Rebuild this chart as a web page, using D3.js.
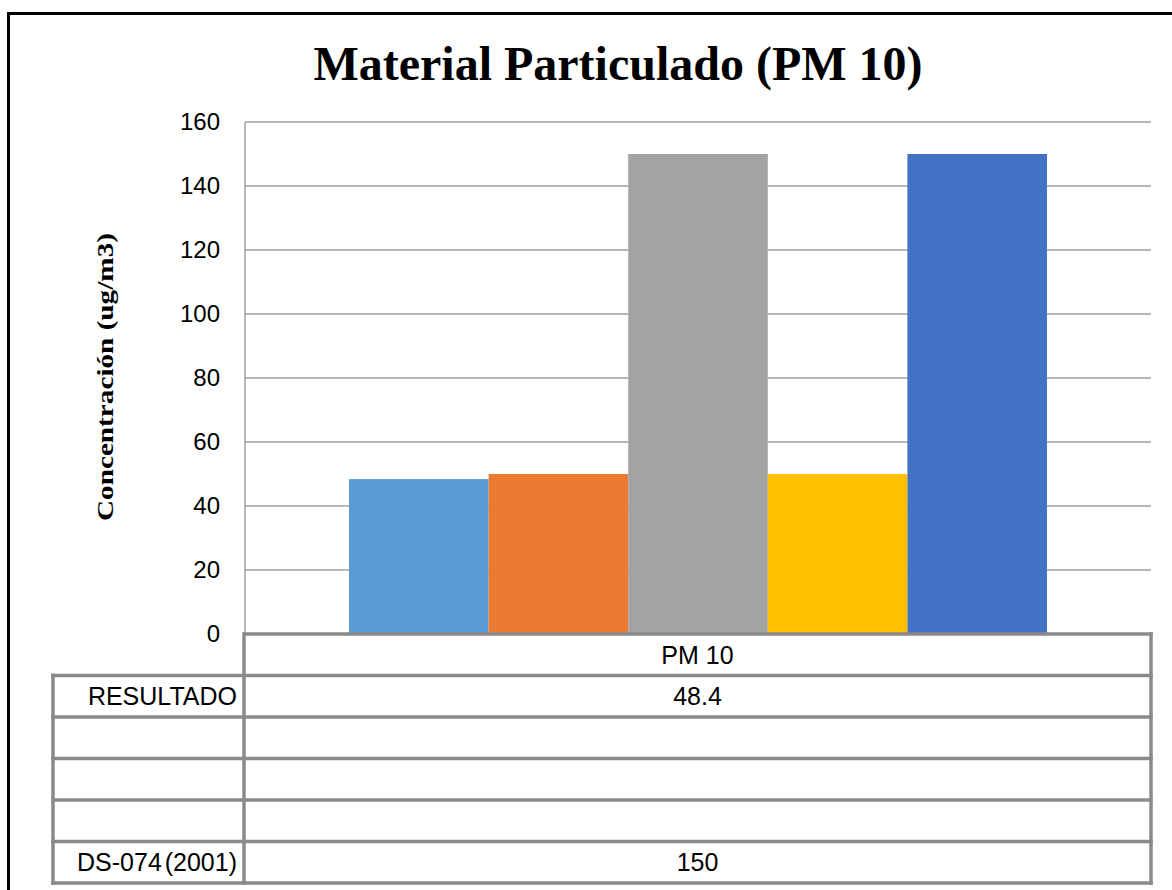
<!DOCTYPE html>
<html>
<head>
<meta charset="utf-8">
<script src="https://cdn.jsdelivr.net/npm/d3@7"></script>
<style>
  html, body { margin: 0; padding: 0; background: #fff; }
  svg { display: block; }
</style>
</head>
<body>
<svg id="chart" width="1172" height="890"></svg>
<script>
// Chart content
const chartTitle = "Material Particulado (PM 10)";
const yAxisTitle = "Concentración (ug/m3)";
const categories = ["PM 10"];
const seriesNames = ["RESULTADO", "", "", "", "DS-074 (2001)"];
const seriesValues = [48.4, 50, 150, 50, 150];
const seriesShownInTable = [true, false, false, false, true];
const seriesColors = ["#5B9BD5", "#EB7B31", "#A3A3A3", "#FFC000", "#4472C4"];
const yTicks = [0, 20, 40, 60, 80, 100, 120, 140, 160];

const svg = d3.select("#chart");
const W = 1172, H = 890;

// Layout
const plot = { left: 245, right: 1151, top: 122, bottom: 634 };
const table = { left: 53, split: 244, right: 1151, rowH: 41.5 };
const gridColor = "#A0A0A0";
const tableColor = "#8A8A8A";
const sansFont = "'Liberation Sans', Arial, sans-serif";
const serifFont = "'Liberation Serif', 'Times New Roman', serif";

svg.append("rect").attr("width", W).attr("height", H).attr("fill", "#fff");

// Outer frame (top and left edges)
svg.append("line").attr("x1", 8.5).attr("x2", W).attr("y1", 13.5).attr("y2", 13.5)
  .attr("stroke", "#000").attr("stroke-width", 3);
svg.append("line").attr("x1", 8.5).attr("x2", 8.5).attr("y1", 12).attr("y2", H)
  .attr("stroke", "#000").attr("stroke-width", 3);

// Scales
const y = d3.scaleLinear().domain([0, 160]).range([plot.bottom, plot.top]);
const x0 = d3.scaleBand().domain(categories).range([plot.left, plot.right])
  .paddingInner(0).paddingOuter(0.149);
const x1 = d3.scaleBand().domain(d3.range(seriesValues.length))
  .range([0, x0.bandwidth()]).padding(0);

// Gridlines + y axis labels
const yAxis = d3.axisLeft(y).tickValues(yTicks).tickSize(0).tickPadding(25);
const yG = svg.append("g").attr("transform", `translate(${plot.left},0)`).call(yAxis);
yG.select(".domain").remove();
yG.selectAll("text")
  .attr("font-family", sansFont).attr("font-size", 24).attr("fill", "#000");

svg.append("g").selectAll("line").data(yTicks.filter(d => d > 0)).join("line")
  .attr("x1", plot.left).attr("x2", plot.right)
  .attr("y1", d => y(d)).attr("y2", d => y(d))
  .attr("stroke", gridColor).attr("stroke-width", 1.5);

// Plot left edge
svg.append("line").attr("x1", plot.left).attr("x2", plot.left)
  .attr("y1", plot.top).attr("y2", plot.bottom)
  .attr("stroke", gridColor).attr("stroke-width", 1.5);

// Bars
const groups = svg.append("g").selectAll("g").data(categories).join("g")
  .attr("transform", d => `translate(${x0(d)},0)`);
groups.selectAll("rect").data(seriesValues.map((v, i) => ({ v, i }))).join("rect")
  .attr("x", d => x1(d.i))
  .attr("width", x1.bandwidth())
  .attr("y", d => y(d.v))
  .attr("height", d => y(0) - y(d.v))
  .attr("fill", d => seriesColors[d.i]);

// Data table
const rowY = i => plot.bottom + i * table.rowH; // row 0 = category header
const nRows = seriesValues.length + 1;
const tg = svg.append("g").attr("stroke", tableColor).attr("stroke-width", 3.5)
  .attr("stroke-linecap", "square");
// horizontal lines
tg.append("line").attr("x1", plot.left).attr("x2", table.right)
  .attr("y1", rowY(0)).attr("y2", rowY(0));
for (let i = 1; i <= nRows; i++) {
  tg.append("line").attr("x1", table.left).attr("x2", table.right)
    .attr("y1", rowY(i)).attr("y2", rowY(i));
}
// vertical lines
tg.append("line").attr("x1", table.left).attr("x2", table.left)
  .attr("y1", rowY(1)).attr("y2", rowY(nRows));
tg.append("line").attr("x1", table.split).attr("x2", table.split)
  .attr("y1", rowY(0)).attr("y2", rowY(nRows));
tg.append("line").attr("x1", table.right).attr("x2", table.right)
  .attr("y1", rowY(0)).attr("y2", rowY(nRows));

const txt = svg.append("g").attr("font-family", sansFont).attr("font-size", 25)
  .attr("fill", "#000");
txt.append("text").attr("x", (table.split + table.right) / 2)
  .attr("y", rowY(0) + table.rowH / 2).attr("dy", "0.36em")
  .attr("text-anchor", "middle").text(categories[0]);
seriesNames.forEach((name, i) => {
  const cy = rowY(i + 1) + table.rowH / 2;
  txt.append("text").attr("x", table.split - 7).attr("y", cy).attr("dy", "0.36em")
    .attr("text-anchor", "end").attr("word-spacing", -4).text(name);
  if (seriesShownInTable[i]) {
    txt.append("text").attr("x", (table.split + table.right) / 2).attr("y", cy)
      .attr("dy", "0.36em").attr("text-anchor", "middle")
      .text(d3.format("")(seriesValues[i]));
  }
});

// Titles
svg.append("text").attr("x", 618).attr("y", 80).attr("text-anchor", "middle")
  .attr("font-family", serifFont).attr("font-weight", "bold").attr("font-size", 48)
  .text(chartTitle);
svg.append("text").attr("transform", "translate(113,377) rotate(-90)")
  .attr("text-anchor", "middle")
  .attr("font-family", serifFont).attr("font-weight", "bold").attr("font-size", 24)
  .attr("textLength", 288).attr("lengthAdjust", "spacingAndGlyphs")
  .text(yAxisTitle);
</script>
</body>
</html>
